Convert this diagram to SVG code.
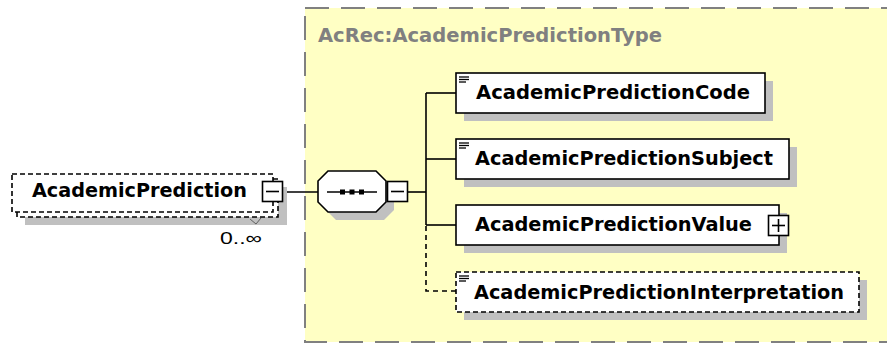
<svg xmlns="http://www.w3.org/2000/svg" width="887" height="344" viewBox="0 0 887 344">
<style>
.t{font-family:"DejaVu Sans",Verdana,sans-serif;font-weight:bold;font-size:19px;fill:#000}
.title{font-family:"DejaVu Sans",Verdana,sans-serif;font-weight:bold;font-size:19px;fill:#808080}
.box{fill:#fff;stroke:#000;stroke-width:1.6}
.dbox{fill:#fff;stroke:#000;stroke-width:1.6;stroke-dasharray:5 3}
.sh{fill:#c0c0c0}
.ln{stroke:#000;stroke-width:1.6;fill:none}
.dl{stroke:#000;stroke-width:1.6;fill:none;stroke-dasharray:5 4}
.ic{stroke:#000;stroke-width:1.3}
</style>
<rect width="887" height="344" fill="#fff"/>
<g id="type-container">
<rect x="305" y="8" width="600" height="334" fill="#ffffc4" stroke="#808080" stroke-width="2" stroke-dasharray="24 12"/>
<text class="title" x="318" y="42" textLength="344" lengthAdjust="spacingAndGlyphs">AcRec:AcademicPredictionType</text>
</g>
<g id="connectors">
<line class="ln" x1="283" y1="192" x2="318" y2="192"/>
<line class="ln" x1="407" y1="192" x2="426" y2="192"/>
<line class="ln" x1="426" y1="93" x2="426" y2="225"/>
<line class="ln" x1="426" y1="93" x2="456" y2="93"/>
<line class="ln" x1="426" y1="159" x2="456" y2="159"/>
<line class="ln" x1="426" y1="225" x2="456" y2="225"/>
<polyline class="dl" points="426,226 426,291 456,291"/>
</g>
<g id="AcademicPrediction">
<rect class="sh" x="25" y="187" width="262" height="38"/>
<rect class="dbox" x="17" y="179" width="261" height="38"/>
<rect class="dbox" x="12" y="174" width="261" height="38"/>
<text class="t" x="32" y="197" textLength="215" lengthAdjust="spacingAndGlyphs">AcademicPrediction</text>
<rect class="box" x="262.5" y="181.5" width="20" height="20"/>
<line class="ln" x1="266" y1="191.5" x2="279" y2="191.5"/>
<polyline points="250,219 256,224 261,218" fill="none" stroke="#606060" stroke-width="1"/>
<text x="220" y="244" font-family="'Liberation Sans',Arial,sans-serif" font-size="17" fill="#000" textLength="42" lengthAdjust="spacingAndGlyphs">0..∞</text>
</g>
<g id="sequence">
<polygon class="sh" points="336,179 384,179 394,189 394,210 384,220 336,220 326,210 326,189"/>
<polygon class="box" points="328,171 376,171 386,181 386,202 376,212 328,212 318,202 318,181"/>
<line class="ln" x1="327" y1="192" x2="377" y2="192"/>
<rect x="340" y="189.5" width="5" height="5" fill="#000"/>
<rect x="349.5" y="189.5" width="5" height="5" fill="#000"/>
<rect x="359" y="189.5" width="5" height="5" fill="#000"/>
<rect class="box" x="387.5" y="181.5" width="20" height="20"/>
<line class="ln" x1="391" y1="191.5" x2="404" y2="191.5"/>
</g>
<g id="AcademicPredictionCode">
<rect class="sh" x="464" y="81" width="309" height="40"/>
<rect class="box" x="456" y="73" width="309" height="40"/>
<line class="ic" x1="459" y1="77" x2="469" y2="77"/><line class="ic" x1="459" y1="79.5" x2="469" y2="79.5"/><line class="ic" x1="459" y1="82" x2="466" y2="82"/>
<text class="t" x="476" y="99" textLength="274" lengthAdjust="spacingAndGlyphs">AcademicPredictionCode</text>
</g>
<g id="AcademicPredictionSubject">
<rect class="sh" x="464" y="147" width="333" height="40"/>
<rect class="box" x="456" y="139" width="333" height="40"/>
<line class="ic" x1="459" y1="143" x2="469" y2="143"/><line class="ic" x1="459" y1="145.5" x2="469" y2="145.5"/><line class="ic" x1="459" y1="148" x2="466" y2="148"/>
<text class="t" x="475" y="165" textLength="298" lengthAdjust="spacingAndGlyphs">AcademicPredictionSubject</text>
</g>
<g id="AcademicPredictionValue">
<rect class="sh" x="464" y="213" width="323" height="40"/>
<rect class="box" x="456" y="205" width="323" height="40"/>
<text class="t" x="475" y="231" textLength="277" lengthAdjust="spacingAndGlyphs">AcademicPredictionValue</text>
<rect class="box" x="768.5" y="215.5" width="20" height="20"/>
<line class="ln" x1="772" y1="225.5" x2="785" y2="225.5"/>
<line class="ln" x1="778.5" y1="219" x2="778.5" y2="232"/>
</g>
<g id="AcademicPredictionInterpretation">
<rect class="sh" x="464" y="280" width="403" height="40"/>
<rect class="dbox" x="456" y="272" width="403" height="40"/>
<line class="ic" x1="459" y1="276" x2="469" y2="276"/><line class="ic" x1="459" y1="278.5" x2="469" y2="278.5"/><line class="ic" x1="459" y1="281" x2="466" y2="281"/>
<text class="t" x="474" y="299" textLength="370" lengthAdjust="spacingAndGlyphs">AcademicPredictionInterpretation</text>
</g>
</svg>
